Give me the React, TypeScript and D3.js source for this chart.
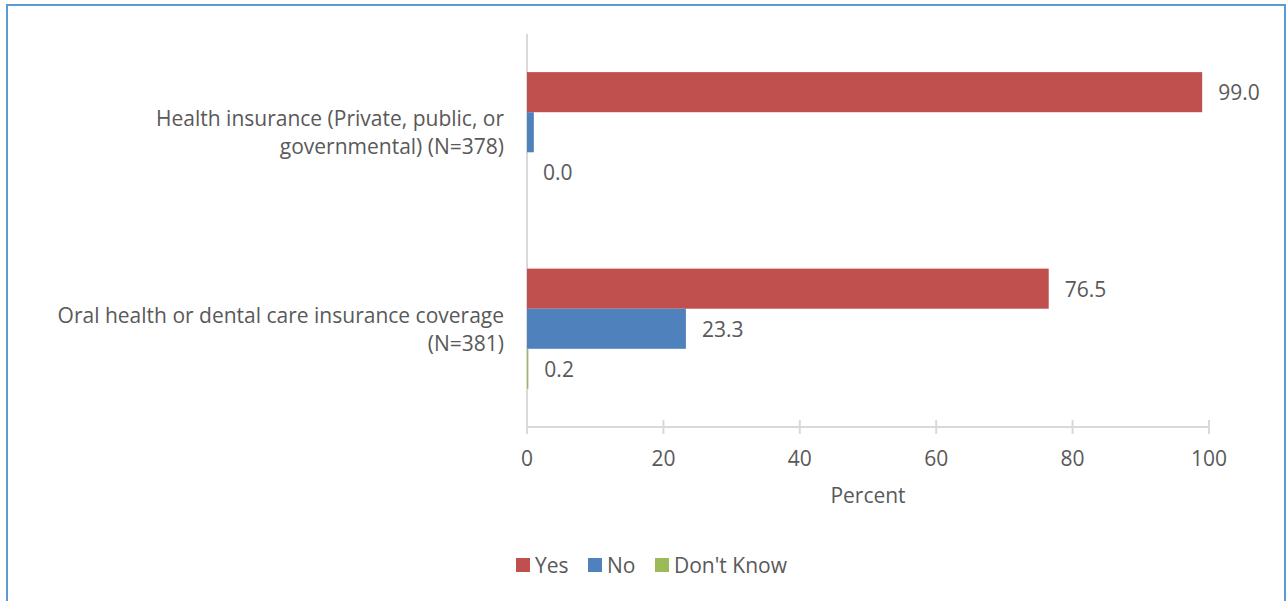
import React, { useEffect, useRef } from "react";
import * as d3 from "d3";

const categories = [
  "Health insurance (Private, public, or governmental) (N=378)",
  "Oral health or dental care insurance coverage (N=381)",
];
const categoryLines = [
  ["Health insurance (Private, public, or", "governmental) (N=378)"],
  ["Oral health or dental care insurance coverage", "(N=381)"],
];
const seriesNames = ["Yes", "No", "Don't Know"];
const yesValues = [99.0, 76.5];
const noValues = [1.0, 23.3];
const dontKnowValues = [0.0, 0.2];
// which data labels are shown (the reference hides the "No" label of the first category)
const yesLabels = [true, true];
const noLabels = [false, true];
const dontKnowLabels = [true, true];
const xTicks = [0, 20, 40, 60, 80, 100];
const colors = ["#c0504d", "#4f81bd", "#9bbb59"];

const W = 1287;
const H = 601;
const FONT = "'Open Sans', sans-serif";
const TEXT = "#595959";
const FS = 21;

export default function App() {
  const ref = useRef<SVGSVGElement | null>(null);

  useEffect(() => {
    const svg = d3.select(ref.current);
    svg.selectAll("*").remove();

    // outer border
    svg
      .append("rect")
      .attr("x", 7)
      .attr("y", 5)
      .attr("width", 1278)
      .attr("height", 700)
      .attr("fill", "white")
      .attr("stroke", "#5b9bd5")
      .attr("stroke-width", 2);

    const left = 527;
    const right = 1209;
    const top = 34;
    const bottom = 427;

    const x = d3.scaleLinear().domain([0, 100]).range([left, right]);
    const y = d3
      .scaleBand<string>()
      .domain(categories)
      .range([top, bottom])
      .paddingInner(0.388)
      .paddingOuter(0.194);
    const sub = d3
      .scaleBand<string>()
      .domain(seriesNames)
      .range([0, y.bandwidth()]);

    const series = [yesValues, noValues, dontKnowValues];
    const shown = [yesLabels, noLabels, dontKnowLabels];

    const addText = (tx: number, ty: number, s: string, anchor = "start") =>
      svg
        .append("text")
        .attr("x", tx)
        .attr("y", ty)
        .attr("text-anchor", anchor)
        .attr("dominant-baseline", "central")
        .attr("font-family", FONT)
        .attr("font-size", FS)
        .attr("fill", TEXT)
        .text(s);

    // axis lines
    svg
      .append("line")
      .attr("x1", x(0))
      .attr("x2", x(0))
      .attr("y1", top)
      .attr("y2", bottom + 7)
      .attr("stroke", "#d9d9d9")
      .attr("stroke-width", 2);
    svg
      .append("line")
      .attr("x1", x(0))
      .attr("x2", x(100))
      .attr("y1", bottom)
      .attr("y2", bottom)
      .attr("stroke", "#d9d9d9")
      .attr("stroke-width", 2);
    xTicks.forEach((t) => {
      svg
        .append("line")
        .attr("x1", x(t))
        .attr("x2", x(t))
        .attr("y1", bottom - 7)
        .attr("y2", bottom + 7)
        .attr("stroke", "#d9d9d9")
        .attr("stroke-width", 2);
      addText(x(t), 458, String(t), "middle");
    });

    // bars
    categories.forEach((c, ci) => {
      seriesNames.forEach((s, si) => {
        const v = series[si][ci];
        const y0 = (y(c) as number) + (sub(s) as number);
        if (v > 0) {
          svg
            .append("rect")
            .attr("x", x(0))
            .attr("y", y0)
            .attr("width", x(v) - x(0))
            .attr("height", sub.bandwidth())
            .attr("fill", colors[si]);
        }
        if (shown[si][ci]) {
          addText(x(v) + 16, y0 + sub.bandwidth() / 2, v.toFixed(1));
        }
      });
      // category labels
      const cy = (y(c) as number) + y.bandwidth() / 2;
      const lines = categoryLines[ci];
      lines.forEach((ln, li) => {
        addText(504, cy + (li - (lines.length - 1) / 2) * 28, ln, "end");
      });
    });

    // axis title
    addText(868, 495, "Percent", "middle");

    // legend
    const legendX = [516, 588, 655];
    seriesNames.forEach((s, si) => {
      svg
        .append("rect")
        .attr("x", legendX[si])
        .attr("y", 558)
        .attr("width", 14)
        .attr("height", 14)
        .attr("fill", colors[si]);
      addText(legendX[si] + 19, 565, s);
    });
  }, []);

  return (
    <svg
      ref={ref}
      width={W}
      height={H}
      style={{ position: "absolute", left: 0, top: 0, background: "white" }}
    />
  );
}
